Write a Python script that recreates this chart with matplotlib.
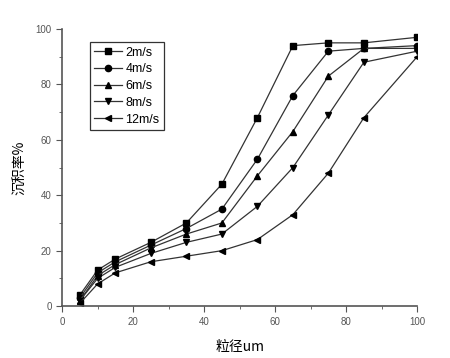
import matplotlib
matplotlib.use("Agg")
import matplotlib.pyplot as plt
from matplotlib.ticker import MultipleLocator

plt.rcParams['font.family'] = ['Liberation Sans', 'Noto Sans CJK SC', 'DejaVu Sans']

# particle size (um)
x = [5, 10, 15, 25, 35, 45, 55, 65, 75, 85, 100]
v2 = [4, 13, 17, 23, 30, 44, 68, 94, 95, 95, 97]
v4 = [3, 12, 16, 22, 28, 35, 53, 76, 92, 93, 94]
v6 = [2, 11, 15, 21, 26, 30, 47, 63, 83, 93, 93]
v8 = [2, 10, 14, 19, 23, 26, 36, 50, 69, 88, 92]
v12 = [1, 8, 12, 16, 18, 20, 24, 33, 48, 68, 90]
labels = ["2m/s", "4m/s", "6m/s", "8m/s", "12m/s"]
markers = ["s", "o", "^", "v", "<"]

fig = plt.figure(figsize=(4.5, 3.58), dpi=100)
ax = fig.add_axes([0.138, 0.145, 0.789, 0.774])

for y, lab, m in zip([v2, v4, v6, v8, v12], labels, markers):
    ax.plot(x, y, color="#333333", lw=0.9, marker=m, ms=4.5,
            mfc="black", mec="black", label=lab)

ax.set_xlim(0, 100)
ax.set_ylim(0, 100)
ax.xaxis.set_major_locator(MultipleLocator(20))
ax.xaxis.set_minor_locator(MultipleLocator(10))
ax.yaxis.set_major_locator(MultipleLocator(20))
ax.yaxis.set_minor_locator(MultipleLocator(10))
for s in ["top", "right"]:
    ax.spines[s].set_visible(False)
for s in ["left", "bottom"]:
    ax.spines[s].set_color("#555555")
    ax.spines[s].set_linewidth(1.2)
ax.tick_params(which="both", direction="out", colors="#555555", labelsize=7)
ax.tick_params(which="major", length=4)
ax.tick_params(which="minor", length=2.5)

ax.set_xlabel("粒径um", fontsize=10, family=['Noto Sans CJK SC'], labelpad=10)
ax.set_ylabel("沉积率%", fontsize=10, family=['Noto Sans CJK SC'], labelpad=6)

leg = ax.legend(loc="upper left", bbox_to_anchor=(0.06, 0.975), fontsize=9,
                frameon=True, fancybox=False, edgecolor="black",
                handlelength=2.2, borderpad=0.35, labelspacing=0.38,
                handletextpad=0.3)
leg.get_frame().set_linewidth(0.9)

fig.savefig("out.png", dpi=100)
